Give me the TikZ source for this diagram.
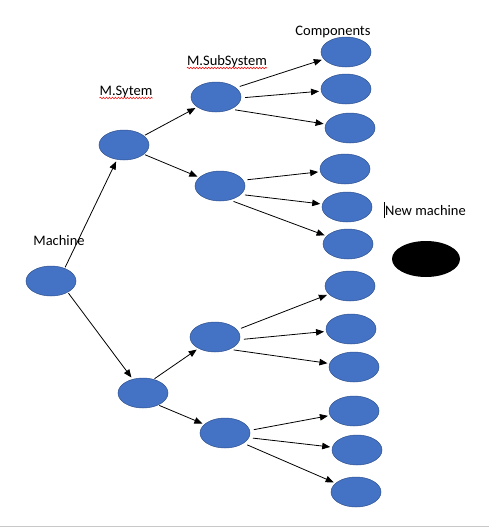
\documentclass[tikz,border=0pt]{standalone}
\usepackage{fontspec}
\setmainfont{Carlito}
\usetikzlibrary{arrows.meta,shapes.geometric,decorations.pathmorphing}
\definecolor{nodeBlue}{HTML}{4472C4}
\definecolor{nodeEdge}{HTML}{2F528F}
\definecolor{pageGray}{HTML}{C8C8C8}
\begin{document}
\begin{tikzpicture}[
  x=1pt,y=-1pt,
  font=\fontsize{14.5}{17}\selectfont,
  blob/.style={ellipse,fill=nodeBlue,draw=nodeEdge,line width=0.5pt,inner sep=0pt,minimum width=50pt,minimum height=30pt},
  newblob/.style={ellipse,fill=black,inner sep=0pt,minimum width=68pt,minimum height=36pt},
  lbl/.style={inner sep=0pt,anchor=base},
  arr/.style={-{Triangle[length=8pt,width=6.5pt]},line width=0.8pt,shorten <=1pt,shorten >=2pt},
  fan/.style={arr,shorten <=4pt},
  squig/.style={red,line width=0.5pt,decorate,decoration={snake,segment length=3pt,amplitude=0.8pt}}
]
\useasboundingbox (0,0) rectangle (489,528);
% tree
\node[blob] (mach) at (51,281) {};
\node[blob] (sysA) at (124,145) {};
\node[blob] (sysB) at (143,393) {};
\node[blob] (subA) at (216,97) {};
\node[blob] (subB) at (220,186) {};
\node[blob] (subC) at (215,337) {};
\node[blob] (subD) at (225,433) {};

\node[blob] (c1) at (346,52) {};
\node[blob] (c2) at (346,89) {};
\node[blob] (c3) at (350,128) {};
\node[blob] (c4) at (345,169) {};
\node[blob] (c5) at (347,207) {};
\node[blob] (c6) at (348,244) {};
\node[blob] (c7) at (350,286) {};
\node[blob] (c8) at (351,329) {};
\node[blob] (c9) at (354,367) {};
\node[blob] (c10) at (354,411) {};
\node[blob] (c11) at (357,450) {};
\node[blob] (c12) at (356,492) {};

\node[newblob] (newm) at (426,259) {};

% labels
\node[lbl] (compLbl) at (333,35) {Components};
\node[lbl] (subLbl) at (227,65) {M.SubSystem};
\node[lbl] (sysLbl) at (126,95) {M.Sytem};
\node[lbl] (machLbl) at (59,245) {Machine};
\node[lbl] (newLbl) at (425.5,215) {New machine};
\draw[squig] ([yshift=-3pt]subLbl.base west) -- ([yshift=-3pt]subLbl.base east);
\draw[squig] ([yshift=-3pt]sysLbl.base west) -- ([yshift=-3pt]sysLbl.base east);
\draw[line width=0.6pt] ([xshift=-1pt,yshift=-3pt]newLbl.base west) -- ([xshift=-1pt,yshift=13pt]newLbl.base west);

% arrows
\draw[arr] (mach.43)--(sysA); \draw[arr] (mach.-34)--(sysB);
\draw[arr] (sysA.25)--(subA); \draw[arr] (sysA.-25)--(subB);
\draw[arr] (sysB.52)--(subC); \draw[arr] (sysB.-38)--(subD);
\draw[fan] (subA.25)--(c1); \draw[fan] (subA.-2)--(c2); \draw[fan] (subA.-39)--(c3);
\draw[fan] (subB.14)--(c4); \draw[fan] (subB.-22)--(c5); \draw[fan] (subB.-55)--(c6);
\draw[fan] (subC.18)--(c7); \draw[fan] (subC.-6)--(c8); \draw[fan] (subC.-40)--(c9);
\draw[fan] (subD.6)--(c10); \draw[fan] (subD.-11)--(c11); \draw[fan] (subD.-29)--(c12);

\draw[pageGray,line width=1pt] (0,526) -- (489,526);
\end{tikzpicture}
\end{document}
